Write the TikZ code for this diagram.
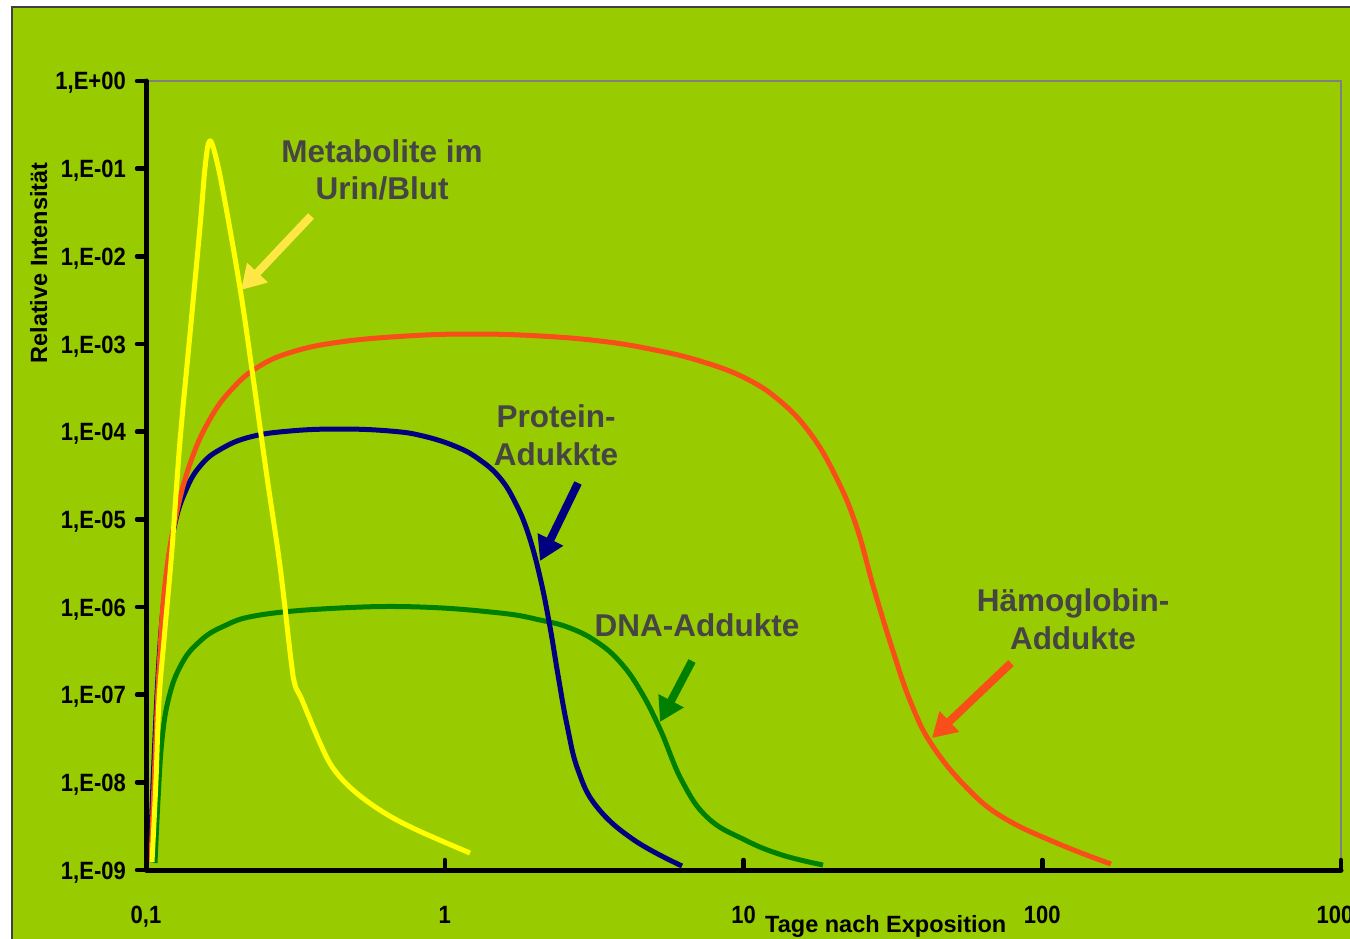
\documentclass[tikz,border=0pt]{standalone}
\usepackage{fontspec}
\setmainfont{Liberation Sans}
\newfontfamily\narrowsans[FakeStretch=0.88]{Liberation Sans}
\usetikzlibrary{arrows.meta}
\definecolor{chartbg}{HTML}{99CC00}
\definecolor{labelgray}{HTML}{454545}
\definecolor{metayellow}{HTML}{FFFF00}
\definecolor{metaarrow}{HTML}{FFE845}
\definecolor{hbred}{HTML}{F84F1A}
\definecolor{protblue}{HTML}{000080}
\definecolor{dnagreen}{HTML}{008000}

\begin{document}
\begin{tikzpicture}[
  x=1pt, y=-1pt,
  curve/.style={line width=5pt, line join=round},
  callout/.style={-{Triangle[length=24pt, width=27pt]}, line width=8pt},
  lbl/.style={font=\bfseries\fontsize{31.5}{37.5}\selectfont, text=labelgray, align=center, inner sep=0pt},
  ticklbl/.style={font=\narrowsans\bfseries\fontsize{25}{30}\selectfont, inner sep=0pt},
  axtitle/.style={font=\bfseries\fontsize{23.5}{28}\selectfont, inner sep=0pt},
  axisline/.style={line width=5pt, line cap=round, line join=round},
  tickmark/.style={line width=4.5pt, line cap=round}
]
  \useasboundingbox (0,0) rectangle (1350,939);
  \fill[white] (0,0) rectangle (1350,939);
  \draw[fill=chartbg, draw=black!75, line width=1.5pt] (12,7) rectangle (1360,950);
  \draw[gray, line width=2pt] (146,81) -- (1341,81) -- (1341,870);

  \draw[curve, dnagreen] plot[smooth, tension=0.7] coordinates {(155,863) (158,800) (162,740) (169,697) (181,665) (198,643) (222,627) (260,615) (340,608) (420,607) (500,613) (540,620) (570,628) (597,642) (620,662) (640,690) (660,729) (682,781) (708,818) (745,840) (782,855) (823,865)};
  \draw[curve, protblue] plot[smooth, tension=0.7] coordinates {(150,862) (154,760) (159,660) (165,590) (174,528) (186,490) (201,465) (221,449) (250,437) (290,431) (340,429) (390,431) (423,436) (457,447) (480,460) (500,478) (515,502) (528,533) (540,577) (550,627) (558,675) (567,725) (578,770) (597,807) (634,840) (682,866)};
  \draw[curve, hbred] plot[smooth, tension=0.7] coordinates {(151,862) (155,760) (159,670) (165,584) (176,516) (191,461) (210,419) (232,389) (258,367) (292,352) (340,342) (407,336) (473,334) (540,336) (600,341) (650,349) (700,361) (745,378) (780,401) (810,433) (835,475) (856,525) (874,589) (893,651) (911,703) (932,745) (967,788) (1004,818) (1059,844) (1111,864)};
  \draw[curve, metayellow] plot[smooth, tension=0.6] coordinates {(152,862) (156,780) (159,700) (164,640) (172,549) (180,441) (190,334) (200,227) (205,168) (209,142) (214,150) (223,191) (240,288) (253,377) (267,477) (280,566) (291,660) (295,685) (302,700) (320,743) (333,768) (353,790) (383,812) (417,830) (470,853)};

  \draw[axisline] (146,81) -- (146,870) -- (1341,870);
  \foreach \i in {0,...,9}
    \draw[tickmark] (137,{81+87.67*\i}) -- (146,{81+87.67*\i});
  \foreach \i in {1,...,4}
    \draw[tickmark] ({146+298.75*\i},870) -- ({146+298.75*\i},860);

  \node[ticklbl, anchor=base east] (ylab0) at (126,90) {1,E+00};
  \foreach \i in {1,...,9}
    \node[ticklbl, anchor=base east] (ylab\i) at (126,{90+87.67*\i}) {1,E-0\i};
  \foreach \v [count=\i from 0] in {{0,1},1,10,100,1000}
    \node[ticklbl, anchor=base] (xlab\i) at ({146+298.75*\i},923) {\v};

  \node[axtitle, anchor=base west] (xtitle) at (765,932) {Tage nach Exposition};
  \node[axtitle, rotate=90, anchor=base] (ytitle) at (47,263) {Relative Intensität};

  \node[lbl] (metalbl) at (382,170) {Metabolite im\\Urin/Blut};
  \node[lbl] (protlbl) at (556,435) {Protein-\\Adukkte};
  \node[lbl] (dnalbl) at (697,625) {DNA-Addukte};
  \node[lbl] (hblbl) at (1073,619) {Hämoglobin-\\Addukte};

  \coordinate (metaS) at (311,216);
  \coordinate (metaT) at (241,290);
  \coordinate (protS) at (578,483);
  \coordinate (protT) at (540,561);
  \coordinate (dnaS) at (692,661);
  \coordinate (dnaT) at (660,722);
  \coordinate (hbS) at (1011,663);
  \coordinate (hbT) at (932,738);
  \draw[callout, metaarrow] (metaS) -- (metaT);
  \draw[callout, protblue] (protS) -- (protT);
  \draw[callout, dnagreen] (dnaS) -- (dnaT);
  \draw[callout, hbred] (hbS) -- (hbT);
\end{tikzpicture}
\end{document}
